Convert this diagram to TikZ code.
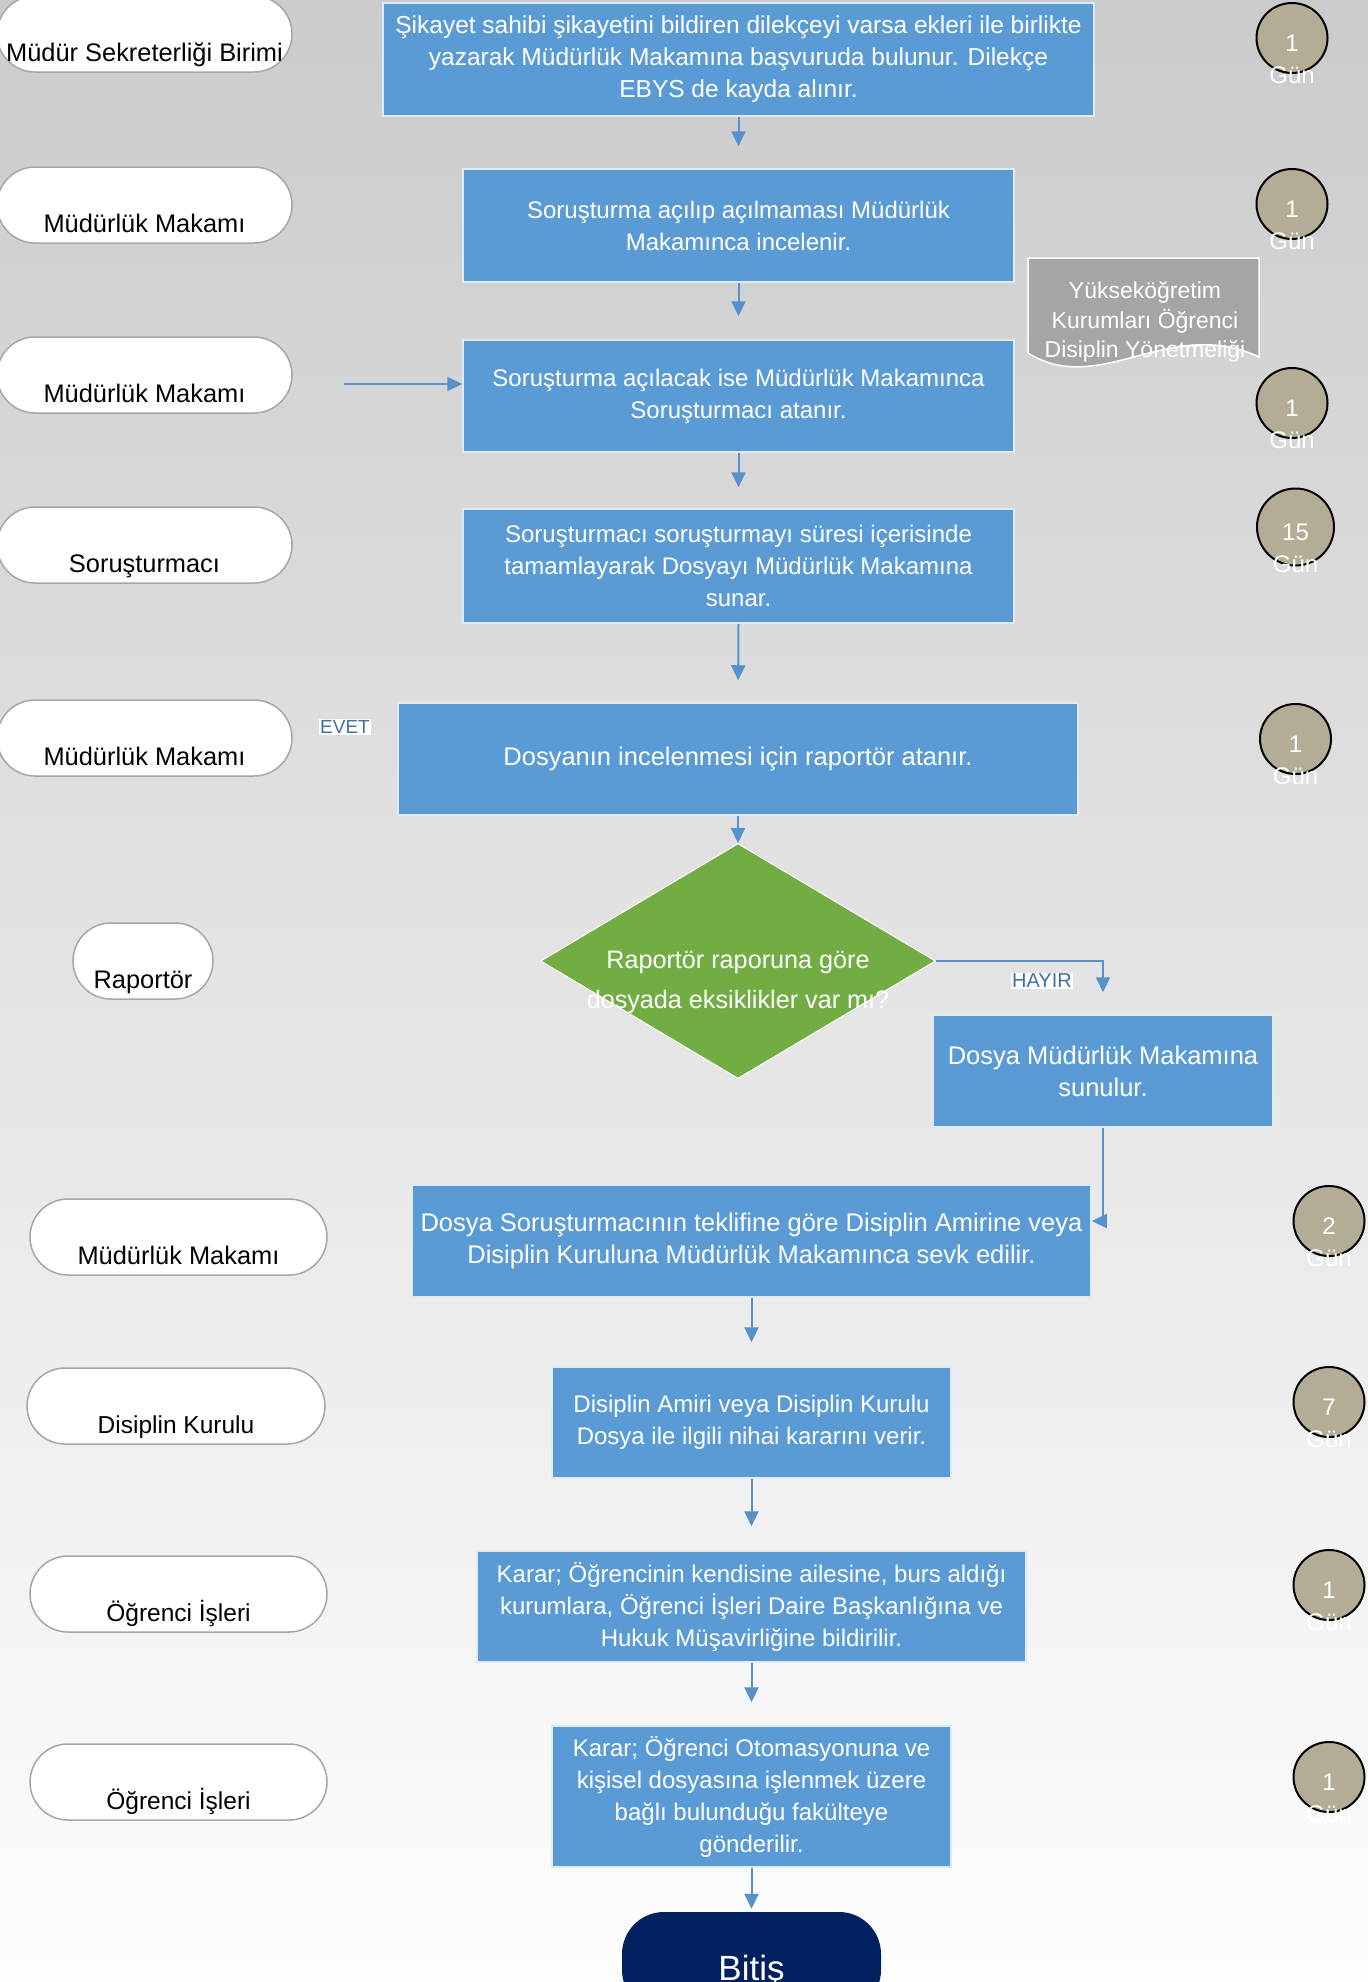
\documentclass[tikz,border=0pt]{standalone}
\usepackage{fontspec}
\setmainfont{Liberation Sans}
\usetikzlibrary{shapes.geometric,arrows.meta}
\definecolor{boxblue}{RGB}{91,155,213}
\definecolor{arrblue}{RGB}{84,145,205}
\definecolor{dgreen}{RGB}{114,173,68}
\definecolor{docgray}{RGB}{165,165,165}
\definecolor{khaki}{RGB}{179,173,149}
\definecolor{navy}{RGB}{0,32,96}
\definecolor{lblblue}{RGB}{65,112,168}
\definecolor{bgtop}{RGB}{203,203,203}
\definecolor{bgmid}{RGB}{236,236,236}
\definecolor{bgbot}{RGB}{253,253,253}
\definecolor{ovalgray}{RGB}{166,166,166}
\definecolor{edgelight}{RGB}{222,235,247}
\begin{document}
\begin{tikzpicture}[x=1pt,y=-1pt,
  stepbox/.style={rectangle, fill=boxblue, draw=edgelight, line width=1.5pt, text=white, align=center, inner sep=0pt, font=\fontsize{24}{32}\selectfont},
  bigtext/.style={font=\fontsize{25.5}{32}\selectfont},
  lane/.style={rectangle, rounded corners=38pt, fill=white, draw=ovalgray, line width=1.5pt, inner xsep=0pt, inner ysep=0pt, minimum height=76pt, text height=65pt, text depth=11pt, text=black, font=\fontsize{25.4}{28}\selectfont},
  smalllane/.style={font=\fontsize{24.5}{28}\selectfont},
  arr/.style={draw=arrblue, line width=2pt, -{Triangle[width=14pt,length=15pt]}},
  day/.style={ellipse, fill=khaki, draw=black, line width=2pt, minimum width=71pt, minimum height=70pt, inner sep=0pt, text height=27.2pt, text depth=0pt, text=white, font=\fontsize{24}{28}\selectfont},
  gun/.style={anchor=base, text=white, inner sep=0pt, font=\fontsize{24}{28}\selectfont},
  tag/.style={fill=white, text=lblblue, inner sep=1.5pt},
]
\useasboundingbox (0,0) rectangle (1368,1982);
\shade[top color=bgtop, middle color=bgmid, bottom color=bgbot] (0,0) rectangle (1368,1982);

% lanes
\node[lane, minimum width=295pt] (l1) at (144.5,34) {Müdür Sekreterliği Birimi};
\node[lane, minimum width=295pt] (l2) at (144.5,205) {Müdürlük Makamı};
\node[lane, minimum width=295pt] (l3) at (144.5,375) {Müdürlük Makamı};
\node[lane, minimum width=295pt] (l4) at (144.5,545) {Soruşturmacı};
\node[lane, minimum width=295pt] (l5) at (144.5,738) {Müdürlük Makamı};
\node[lane, minimum width=140pt] (l6) at (143,961) {Raportör};
\node[lane, minimum width=297pt] (l7) at (178.5,1237) {Müdürlük Makamı};
\node[lane, smalllane, minimum width=298pt] (l8) at (176,1406) {Disiplin Kurulu};
\node[lane, smalllane, minimum width=297pt] (l9) at (178.5,1594) {Öğrenci İşleri};
\node[lane, smalllane, minimum width=297pt] (l10) at (178.5,1782) {Öğrenci İşleri};

% steps
\node[stepbox, font=\fontsize{24.5}{32}\selectfont, minimum width=711pt, minimum height=113pt] (b1) at (738.5,59.5) {Şikayet sahibi şikayetini bildiren dilekçeyi varsa ekleri ile birlikte\\yazarak Müdürlük Makamına başvuruda bulunur. Dilekçe\\EBYS de kayda alınır.};
\node[stepbox, minimum width=551pt, minimum height=113pt] (b2) at (738.5,225.5) {Soruşturma açılıp açılmaması Müdürlük\\Makamınca incelenir.};
\node[stepbox, minimum width=551pt, minimum height=112pt] (b3) at (738.5,396) {Soruşturma açılacak ise Müdürlük Makamınca\\Soruşturmacı atanır.};
\node[stepbox, minimum width=551pt, minimum height=114pt] (b4) at (738.5,566) {Soruşturmacı soruşturmayı süresi içerisinde\\tamamlayarak Dosyayı Müdürlük Makamına\\sunar.};
\node[stepbox, bigtext, minimum width=680pt, minimum height=112pt] (b5) at (738,759) {Dosyanın incelenmesi için raportör atanır.};
\node[diamond, fill=dgreen, draw=white, line width=1pt, minimum width=395pt, minimum height=235pt, aspect=1.68, inner sep=0pt] (dec) at (738,961) {};
\node[text=white, align=center, inner sep=0pt, font=\fontsize{25.2}{40}\selectfont] (dectext) at (738,982) {Raportör raporuna göre\\dosyada eksiklikler var mı?};
\node[stepbox, bigtext, minimum width=340pt, minimum height=112pt] (b6) at (1103,1071) {Dosya Müdürlük Makamına\\sunulur.};
\node[stepbox, bigtext, minimum width=679pt, minimum height=112pt] (b7) at (751.5,1241) {Dosya Soruşturmacının teklifine göre Disiplin Amirine veya\\Disiplin Kuruluna Müdürlük Makamınca sevk edilir.};
\node[stepbox, minimum width=399pt, minimum height=111pt] (b8) at (751.5,1422.5) {Disiplin Amiri veya Disiplin Kurulu\\Dosya ile ilgili nihai kararını verir.};
\node[stepbox, minimum width=549pt, minimum height=111pt] (b9) at (751.5,1606.5) {Karar; Öğrencinin kendisine ailesine, burs aldığı\\kurumlara, Öğrenci İşleri Daire Başkanlığına ve\\Hukuk Müşavirliğine bildirilir.};
\node[stepbox, minimum width=399pt, minimum height=141pt] (b10) at (751.5,1796.5) {Karar; Öğrenci Otomasyonuna ve\\kişisel dosyasına işlenmek üzere\\bağlı bulunduğu fakülteye\\gönderilir.};
\node[fill=navy, rounded corners=42pt, minimum width=259pt, minimum height=100pt, inner sep=0pt, text=white, text height=36pt, text depth=0pt, font=\fontsize{35}{40}\selectfont] (bitis) at (751.5,1962) {Bitiş};

% document shape
\draw[fill=docgray, draw=white, line width=1.5pt] (1028,258) -- (1259,258) -- (1259,357) .. controls (1170,315) and (1100,398) .. (1028,353) -- cycle;
\node[text=white, align=center, inner sep=0pt, font=\fontsize{23}{29.7}\selectfont] (doctext) at (1145,322) {Yükseköğretim\\Kurumları Öğrenci\\Disiplin Yönetmeliği};

% labels
\node[tag, font=\fontsize{19}{22}\selectfont] (evet) at (345,727) {EVET};
\node[tag, font=\fontsize{20}{22}\selectfont] (hayir) at (1042,981) {HAYIR};

% arrows
\draw[arr, shorten >=22pt] (b1.south) -- (b2.north);
\draw[arr, shorten >=23pt] (b2.south) -- (b3.north);
\draw[arr, shorten >=21pt] (b3.south) -- (b4.north);
\draw[arr, shorten >=22pt] (b4.south) -- (b5.north);
\draw[arr] (b5.south) -- (dec.north);
\draw[arr, shorten >=22pt] (dec.east) -| (b6.north);
\draw[arr] (b6.south) |- ([yshift=20pt]b7.east);
\draw[arr, shorten >=24pt] (b7.south) -- (b8.north);
\draw[arr, shorten >=24pt] (b8.south) -- (b9.north);
\draw[arr, shorten >=23pt] (b9.south) -- (b10.north);
\draw[arr, shorten >=3pt] (b10.south) -- (bitis.north);
\coordinate (lin) at (344,384);
\draw[arr] (lin) -- (lin -| b3.west);

% day badges
\node[day] (c1) at (1292,38) {1};
\node[gun] (g1) at ([yshift=-45.6pt]c1.center) {Gün};
\node[day] (c2) at (1292,204) {1};
\node[gun] (g2) at ([yshift=-45.6pt]c2.center) {Gün};
\node[day] (c3) at (1292,403) {1};
\node[gun] (g3) at ([yshift=-45.6pt]c3.center) {Gün};
\node[day, minimum width=77pt, minimum height=77pt] (c4) at (1295.5,527) {15};
\node[gun] (g4) at ([yshift=-45.6pt]c4.center) {Gün};
\node[day] (c5) at (1295.5,739) {1};
\node[gun] (g5) at ([yshift=-45.6pt]c5.center) {Gün};
\node[day] (c6) at (1329,1221) {2};
\node[gun] (g6) at ([yshift=-45.6pt]c6.center) {Gün};
\node[day] (c7) at (1329,1402) {7};
\node[gun] (g7) at ([yshift=-45.6pt]c7.center) {Gün};
\node[day] (c8) at (1329,1585) {1};
\node[gun] (g8) at ([yshift=-45.6pt]c8.center) {Gün};
\node[day] (c9) at (1329,1777) {1};
\node[gun] (g9) at ([yshift=-45.6pt]c9.center) {Gün};
\end{tikzpicture}
\end{document}
